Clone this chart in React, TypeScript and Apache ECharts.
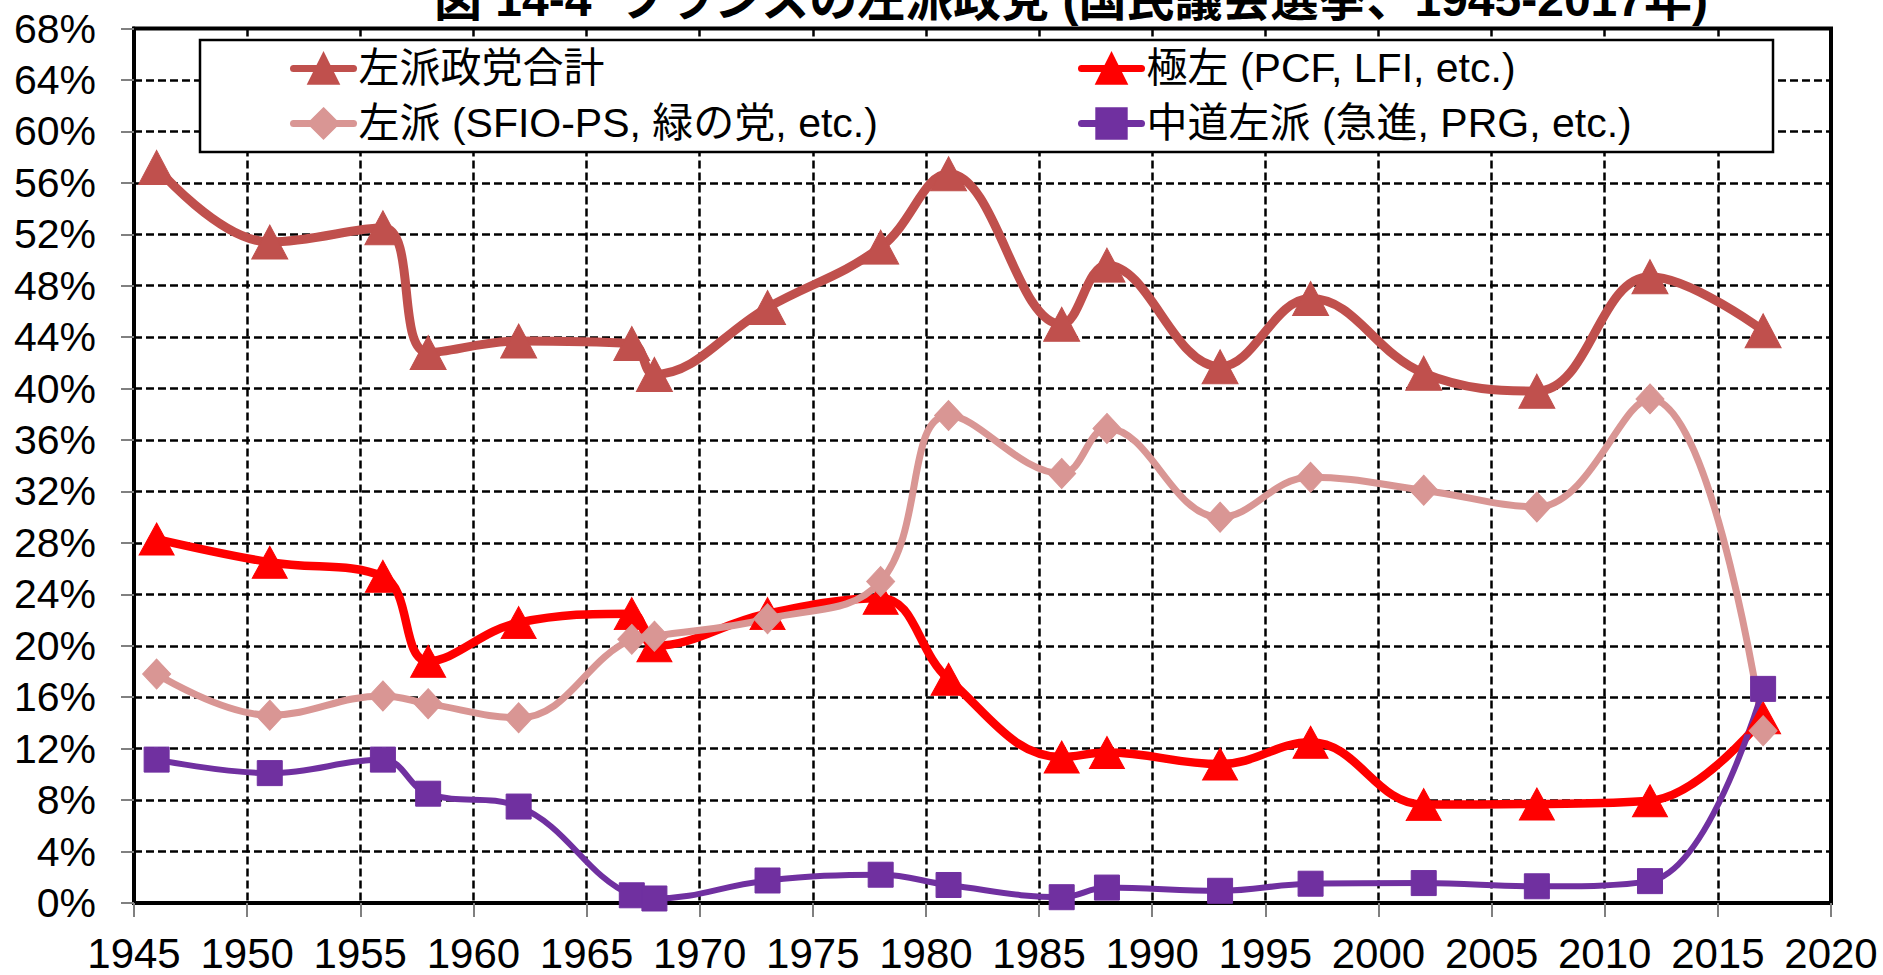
import React, { useEffect, useRef } from "react";
import * as echarts from "echarts";

const years = [1946, 1951, 1956, 1958, 1962, 1967, 1968, 1973, 1978, 1981, 1986, 1988, 1993, 1997, 2002, 2007, 2012, 2017];
const totalLeft = [57.2, 51.4, 52.5, 42.8, 43.7, 43.5, 41.1, 46.3, 51.0, 56.7, 45.0, 49.6, 41.7, 47.0, 41.2, 39.8, 48.7, 44.5];
const farLeft = [28.3, 26.5, 25.4, 18.8, 21.8, 22.5, 20.0, 22.5, 23.7, 17.4, 11.35, 11.7, 10.8, 12.5, 7.65, 7.7, 7.95, 14.4];
const leftPS = [17.8, 14.6, 16.1, 15.5, 14.4, 20.5, 20.75, 22.1, 25.0, 37.9, 33.4, 36.9, 30.0, 33.1, 32.1, 30.8, 39.2, 13.4];
const centerLeft = [11.15, 10.1, 11.15, 8.5, 7.5, 0.6, 0.35, 1.75, 2.2, 1.4, 0.45, 1.2, 0.95, 1.5, 1.55, 1.3, 1.7, 16.65];

const seriesNames = [
  "左派政党合計",
  "極左 (PCF, LFI, etc.)",
  "左派 (SFIO-PS, 緑の党, etc.)",
  "中道左派 (急進, PRG, etc.)",
];
const titleText = "図 14-4  フランスの左派政党 (国民議会選挙、1945-2017年)";

const FONT = "'Liberation Sans', Arial, 'Noto Sans CJK JP', sans-serif";

export default function App() {
  const ref = useRef<HTMLDivElement>(null);
  useEffect(() => {
    document.body.style.margin = "0";
    const chart = echarts.init(ref.current!, undefined, { renderer: "svg" });
    const pair = (ys: number[]) => years.map((y, i) => [y, ys[i]]);
    const legendBase = {
      orient: "vertical",
      padding: 0,
      itemWidth: 60,
      itemHeight: 38,
      textStyle: { fontSize: 41, color: "#000", fontFamily: FONT },
      lineStyle: { width: 7, cap: "round" },
      z: 10,
      selectedMode: false,
    };
    const mk = (name: string, data: number[], color: string, symbol: string, size: any, width: number) => ({
      name,
      type: "line",
      data: pair(data),
      smooth: 0.4,
      symbol,
      symbolSize: size,
      lineStyle: { color, width, cap: "round", join: "round" },
      itemStyle: { color, borderColor: color, borderWidth: 1 },
      emphasis: { disabled: true },
    });
    chart.setOption({
      animation: false,
      backgroundColor: "#fff",
      textStyle: { fontFamily: FONT },
      grid: {
        left: 134,
        right: 52,
        top: 28.5,
        bottom: 72,
        show: true,
        borderColor: "#000",
        borderWidth: 4,
        backgroundColor: "transparent",
      },
      xAxis: {
        type: "value",
        min: 1945,
        max: 2020,
        interval: 5,
        axisLine: { show: true, onZero: false, lineStyle: { color: "#000", width: 4 } },
        axisTick: { show: true, inside: false, length: 14, lineStyle: { color: "#808080", width: 2 } },
        axisLabel: { fontSize: 42, lineHeight: 42, color: "#000", margin: 29, fontFamily: FONT, formatter: (v: number) => String(v) },
        splitLine: { show: true, lineStyle: { color: "#000", width: 2.5, type: [8, 4] } },
      },
      yAxis: {
        type: "value",
        min: 0,
        max: 68,
        interval: 4,
        axisLine: { show: true, lineStyle: { color: "#000", width: 4 } },
        axisTick: { show: true, inside: false, length: 13, lineStyle: { color: "#808080", width: 2 } },
        axisLabel: { fontSize: 41, color: "#000", margin: 38, fontFamily: FONT, formatter: "{value}%" },
        splitLine: { show: true, lineStyle: { color: "#000", width: 2.5, type: [8, 4] } },
      },
      legend: [
        { ...legendBase, left: 290, top: 48, itemGap: 14, data: [seriesNames[0], seriesNames[2]] },
        { ...legendBase, left: 1078, top: 48, itemGap: 14, data: [seriesNames[1], seriesNames[3]] },
      ],
      graphic: [
        {
          type: "rect",
          z: 5,
          shape: { x: 200, y: 40, width: 1573, height: 112 },
          style: { fill: "#fff", stroke: "#000", lineWidth: 2.5 },
        },
        {
          type: "text",
          z: 10,
          x: 1071,
          y: -1,
          style: {
            text: titleText,
            fill: "#000",
            font: `bold 48px ${FONT}`,
            align: "center",
            verticalAlign: "middle",
          },
        },
      ],
      series: [
        mk(seriesNames[0], totalLeft, "#C0504D", "triangle", [36, 34], 9),
        mk(seriesNames[1], farLeft, "#FF0000", "triangle", [35, 32], 8.5),
        mk(seriesNames[2], leftPS, "#D99694", "diamond", [28, 30], 7),
        mk(seriesNames[3], centerLeft, "#7030A0", "rect", [25, 25], 6),
      ],
    });
    return () => chart.dispose();
  }, []);
  return <div ref={ref} style={{ width: 1883, height: 975 }} />;
}
